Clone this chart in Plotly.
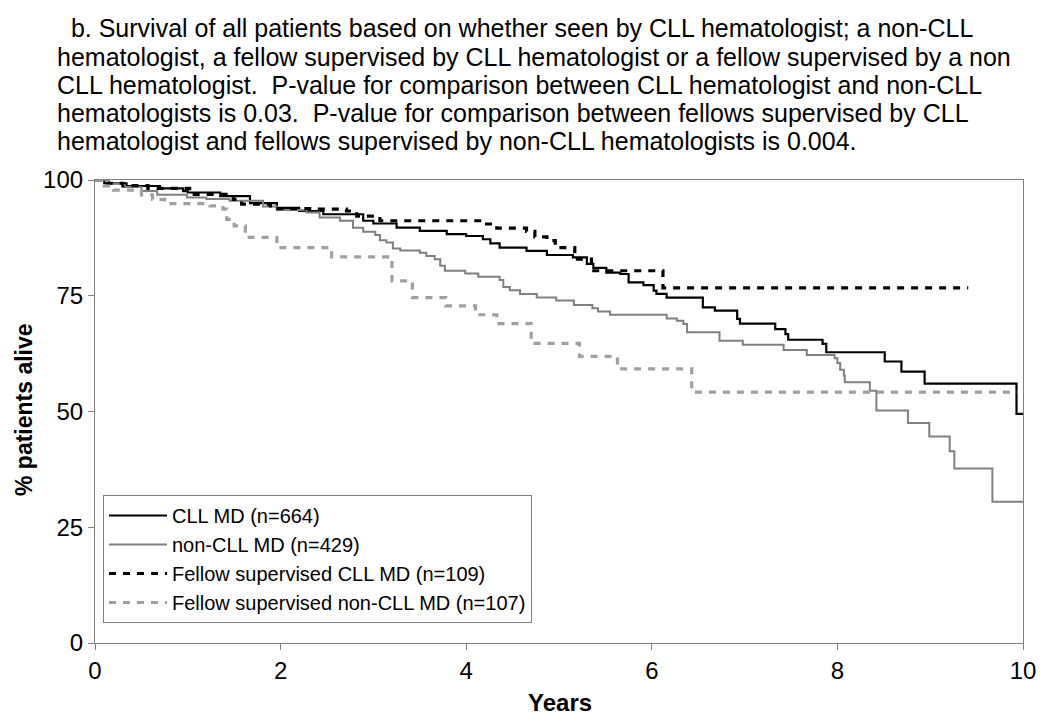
import plotly.graph_objects as go

# ---- data ----
cll_t = [0, 0.1, 0.34, 0.7, 0.95, 1.0, 1.35, 1.67, 1.96, 2.2, 2.46, 2.89, 3.0, 3.25, 3.5, 3.79, 4.0, 4.18,
         4.26, 4.36, 4.65, 4.87, 5.15, 5.3, 5.37, 5.51, 5.66, 5.75, 5.91, 6.02, 6.05, 6.16, 6.55, 6.68,
         6.92, 6.95, 7.33, 7.44, 7.47, 7.84, 7.88, 8.51, 8.69, 8.94, 9.93, 10.02]
cll_s = [100, 99.3, 98.7, 98.2, 97.6, 97.3, 96.5, 95.0, 94.0, 93.3, 92.6, 91.2, 90.6, 89.7, 89.0, 88.3,
         87.9, 87.2, 86.3, 85.4, 84.7, 83.8, 83.3, 81.9, 81.0, 80.0, 79.7, 77.9, 77.3, 76.1, 75.4, 74.6,
         72.5, 71.8, 70.0, 69.0, 67.8, 66.7, 65.5, 64.6, 62.8, 60.8, 58.6, 56.0, 49.5, 49.5]

non_t = [0, 0.15, 0.3, 0.5, 0.67, 0.99, 1.2, 1.45, 1.81, 1.96, 2.28, 2.42, 2.64, 2.78, 2.89, 3.02, 3.07,
         3.14, 3.21, 3.29, 3.5, 3.57, 3.66, 3.72, 3.77, 3.99, 4.13, 4.36, 4.40, 4.47, 4.58, 4.76, 4.97,
         5.16, 5.36, 5.42, 5.55, 6.16, 6.27, 6.34, 6.38, 6.73, 6.98, 7.42, 7.67, 7.97, 8.0, 8.03, 8.07,
         8.08, 8.35, 8.42, 8.76, 8.99, 9.21, 9.26, 9.67, 10.0]
non_s = [100, 99.2, 98.5, 97.6, 96.8, 96.2, 95.9, 95.5, 94.3, 93.5, 93.0, 91.9, 91.2, 89.7, 88.8, 88.1,
         87.0, 86.5, 85.2, 84.8, 84.3, 83.6, 82.9, 81.5, 80.4, 79.8, 79.1, 78.4, 76.9, 76.2, 75.4, 74.6,
         74.0, 73.0, 72.3, 71.6, 70.9, 70.1, 69.6, 68.9, 67.1, 65.3, 64.4, 63.3, 62.2, 61.5, 60.5, 59.0,
         57.8, 56.3, 54.5, 50.2, 47.5, 44.6, 41.4, 37.7, 30.5, 30.5]

fcll_t = [0, 0.1, 0.3, 0.57, 1.02, 1.49, 1.58, 1.89, 2.39, 2.71, 2.82, 3.07, 4.22, 4.33, 4.65, 4.74,
          4.87, 4.96, 5.17, 5.35, 6.12, 9.41]
fcll_s = [100, 99.3, 98.8, 98.2, 96.9, 95.8, 94.8, 93.8, 93.7, 93.3, 92.2, 91.2, 90.5, 89.6, 88.9, 87.7,
          86.9, 85.4, 82.9, 80.4, 76.7, 76.7]

fnon_t = [0, 0.1, 0.2, 0.5, 0.62, 0.75, 1.24, 1.38, 1.42, 1.5, 1.62, 1.96, 2.55, 3.2, 3.42, 3.78, 4.1,
          4.33, 4.7, 5.22, 5.63, 6.43, 9.95]
fnon_s = [100, 98.7, 97.8, 96.8, 95.8, 94.9, 94.4, 93.7, 91.5, 90.1, 87.6, 85.4, 83.4, 78.2, 74.6, 72.8,
          70.9, 69.0, 64.7, 61.9, 59.2, 54.2, 54.2]

series_names = ["CLL MD (n=664)", "non-CLL MD (n=429)",
                "Fellow supervised CLL MD (n=109)", "Fellow supervised non-CLL MD (n=107)"]

x_ticks = [0, 2, 4, 6, 8, 10]
y_ticks = [0, 25, 50, 75, 100]

title_lines = [
    "\u00a0\u00a0b. Survival of all patients based on whether seen by CLL hematologist; a non-CLL",
    "hematologist, a fellow supervised by CLL hematologist or a fellow supervised by a non",
    "CLL hematologist.  P-value for comparison between CLL hematologist and non-CLL",
    "hematologists is 0.03.  P-value for comparison between fellows supervised by CLL",
    "hematologist and fellows supervised by non-CLL hematologists is 0.004.",
]

FONT = "Liberation Sans, Arial, sans-serif"

# page has an 8px body margin; figure is sized so the page fits 1050x718
W, H = 1042, 710
L, R, T, B = 87, 27, 172, 75
PW, PH = W - L - R, H - T - B   # 928 x 463


def px_x(x):  # page pixel -> paper x
    return (x - 8 - L) / PW


def px_y(y):  # page pixel -> paper y
    return (H - B - (y - 8)) / PH


fig = go.Figure()
styles = [
    dict(color="black", width=2.2, dash="solid"),
    dict(color="#808080", width=2.0, dash="solid"),
    dict(color="black", width=3.2, dash="7px,7px"),
    dict(color="#a0a0a0", width=3.2, dash="7px,7px"),
]
for t, s, name, st in zip([cll_t, non_t, fcll_t, fnon_t], [cll_s, non_s, fcll_s, fnon_s],
                          series_names, styles):
    fig.add_trace(go.Scatter(x=t, y=s, mode="lines", name=name, line=dict(shape="hv", **st)))

fig.update_layout(
    width=W, height=H,
    margin=dict(l=L, r=R, t=T, b=B),
    paper_bgcolor="white", plot_bgcolor="white",
    font=dict(family=FONT, color="black", size=20),
    showlegend=True,
    legend=dict(x=px_x(103), y=px_y(495), xanchor="left", yanchor="top",
                bgcolor="white", bordercolor="#808080", borderwidth=1,
                font=dict(size=20, family=FONT), tracegroupgap=0, itemwidth=58),
    xaxis=dict(range=[0, 10], tickvals=x_ticks, ticks="outside", ticklen=6, tickcolor="#808080",
               showline=True, linecolor="#808080", linewidth=1.2, mirror=True, showgrid=False,
               zeroline=False, tickfont=dict(size=24)),
    yaxis=dict(range=[0, 100], tickvals=y_ticks, ticks="outside", ticklen=6, tickcolor="#808080",
               showline=True, linecolor="#808080", linewidth=1.2, mirror=True, showgrid=False,
               zeroline=False, tickfont=dict(size=24)),
)

line_centers = [28, 57, 85, 113, 141]
for i, (txt, yc) in enumerate(zip(title_lines, line_centers)):
    fig.add_annotation(text=txt, xref="paper", yref="paper",
                       x=px_x(55), y=px_y(yc), xanchor="left", yanchor="middle",
                       align="left", showarrow=False, font=dict(size=25, family=FONT))
fig.add_annotation(text="<b>% patients alive</b>", xref="paper", yref="paper",
                   x=px_x(24), y=px_y(410), textangle=-90, showarrow=False,
                   xanchor="center", yanchor="middle", font=dict(size=23, family=FONT))
fig.add_annotation(text="<b>Years</b>", xref="paper", yref="paper",
                   x=px_x(560), y=px_y(702), showarrow=False,
                   xanchor="center", yanchor="middle", font=dict(size=24, family=FONT))

fig.write_html("out.html")
